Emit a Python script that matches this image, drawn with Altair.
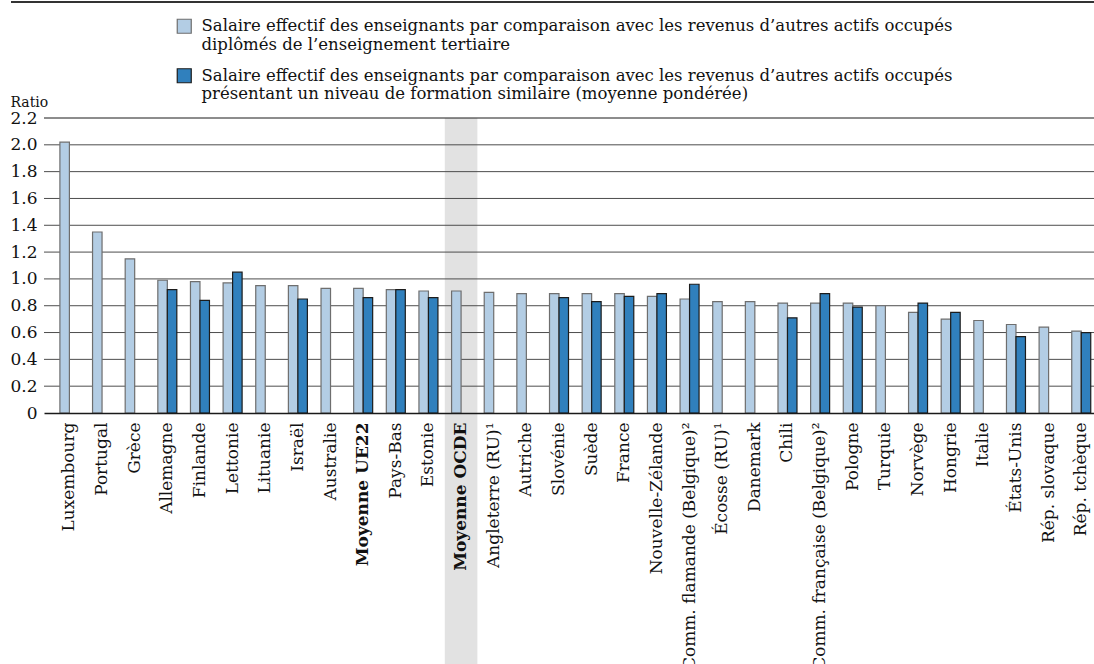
import altair as alt
import pandas as pd

countries = [
    "Luxembourg", "Portugal", "Grèce", "Allemagne", "Finlande", "Lettonie",
    "Lituanie", "Israël", "Australie", "Moyenne UE22", "Pays-Bas", "Estonie",
    "Moyenne OCDE", "Angleterre (RU)¹", "Autriche", "Slovénie", "Suède",
    "France", "Nouvelle-Zélande", "Comm. flamande (Belgique)²", "Écosse (RU)¹",
    "Danemark", "Chili", "Comm. française (Belgique)²", "Pologne", "Turquie",
    "Norvège", "Hongrie", "Italie", "États-Unis", "Rép. slovaque", "Rép. tchèque",
]
tertiary = [2.02, 1.35, 1.15, 0.99, 0.98, 0.97, 0.95, 0.95, 0.93, 0.93, 0.92, 0.91,
            0.91, 0.90, 0.89, 0.89, 0.89, 0.89, 0.87, 0.85, 0.83, 0.83, 0.82, 0.82,
            0.82, 0.80, 0.75, 0.70, 0.69, 0.66, 0.64, 0.61]
similar = [None, None, None, 0.92, 0.84, 1.05, None, 0.85, None, 0.86, 0.92, 0.86,
           None, None, None, 0.86, 0.83, 0.87, 0.89, 0.96, None, None, 0.71, 0.89,
           0.79, None, 0.82, 0.75, None, 0.57, None, 0.60]
series = [
    "Salaire effectif des enseignants par comparaison avec les revenus d’autres actifs occupés|diplômés de l’enseignement tertiaire",
    "Salaire effectif des enseignants par comparaison avec les revenus d’autres actifs occupés|présentant un niveau de formation similaire (moyenne pondérée)",
]
highlight = ["Moyenne OCDE"]
y_ticks = [0, 0.2, 0.4, 0.6, 0.8, 1.0, 1.2, 1.4, 1.6, 1.8, 2.0, 2.2]
grid_values = [0.2, 0.4, 0.6, 0.8, 1.0, 1.2, 1.4, 1.6, 1.8, 2.0, 2.2]

rows = []
for c, a, b in zip(countries, tertiary, similar):
    rows.append({"Country": c, "Series": series[0], "Value": a})
    if b is not None:
        rows.append({"Country": c, "Series": series[1], "Value": b})
df = pd.DataFrame(rows)
grid_df = pd.DataFrame({"Value": grid_values})
band_df = pd.DataFrame({"Country": highlight})

FONT = "DejaVu Serif"
TXT = "#111111"
W, H = 1050, 295

x_enc = alt.X(
    "Country:N",
    sort=countries,
    scale=alt.Scale(domain=countries, paddingInner=0.418, paddingOuter=0.2935, align=0.83),
    axis=alt.Axis(
        title=None, labelAngle=270, labelAlign="right", labelBaseline="middle",
        labelFont=FONT, labelFontSize=17, labelColor=TXT, labelPadding=9,
        labelLimit=500, ticks=False, tickSize=0, domainColor="#1a1a1a",
        domainWidth=1.5, zindex=1,
        labelFontWeight=alt.condition("indexof(datum.label, 'Moyenne') === 0",
                                      alt.value("bold"), alt.value("normal")),
    ),
)
y_enc = alt.Y(
    "Value:Q",
    scale=alt.Scale(domain=[0, 2.2], nice=False, zero=True),
    axis=alt.Axis(
        values=y_ticks, labelExpr="datum.value == 0 ? '0' : format(datum.value, '.1f')",
        grid=False, domain=False, ticks=False, labelPadding=7, labelFont=FONT,
        labelFontSize=17, labelColor=TXT, title="Ratio", titleAngle=0,
        titleAlign="left", titleBaseline="alphabetic", titleX=-34, titleY=-12,
        titleFont=FONT, titleFontSize=14, titleFontWeight="normal", titleColor=TXT,
    ),
)

leg = alt.Legend(
    title=None, orient="none", legendX=132, legendY=-100, direction="vertical",
    symbolType="square", symbolSize=196, symbolStrokeWidth=1.2, symbolOpacity=1,
    labelFont=FONT, labelFontSize=16.5, labelColor=TXT, labelLimit=1000,
    labelOffset=9, rowPadding=11.5, padding=0,
    labelExpr="split(datum.label, '|')",
)

band = alt.Chart(band_df).mark_bar(width=32.6, color="#e2e2e2").encode(
    x=x_enc, y=alt.value(0), y2=alt.value(546)
)
grid = alt.Chart(grid_df).mark_rule(strokeWidth=1).encode(
    y=y_enc,
    color=alt.condition("datum.Value > 2.1", alt.value("#1a1a1a"), alt.value("#4d4d4d")),
)
bars = alt.Chart(df).mark_bar(strokeWidth=1.2).encode(
    x=x_enc,
    xOffset=alt.XOffset("Series:N", sort=series, scale=alt.Scale(domain=series)),
    y=y_enc,
    color=alt.Color("Series:N", scale=alt.Scale(domain=series, range=["#b3cde4", "#3080bd"]), legend=leg),
    stroke=alt.Stroke("Series:N", scale=alt.Scale(domain=series, range=["#6e6e6e", "#1c1c1c"]), legend=leg),
)
topline = alt.Chart(band_df).mark_rule(color="#333333", strokeWidth=2).encode(
    x=alt.value(-33), x2=alt.value(W), y=alt.value(-116)
)

chart = alt.layer(band, grid, bars, topline).properties(
    width=W, height=H,
    autosize=alt.AutoSizeParams(type="none"),
    padding={"left": 44, "top": 118, "right": 0, "bottom": 251},
    background="white",
).configure_view(stroke=None)

chart.save("out.html", embed_options={"renderer": "svg", "actions": False})
